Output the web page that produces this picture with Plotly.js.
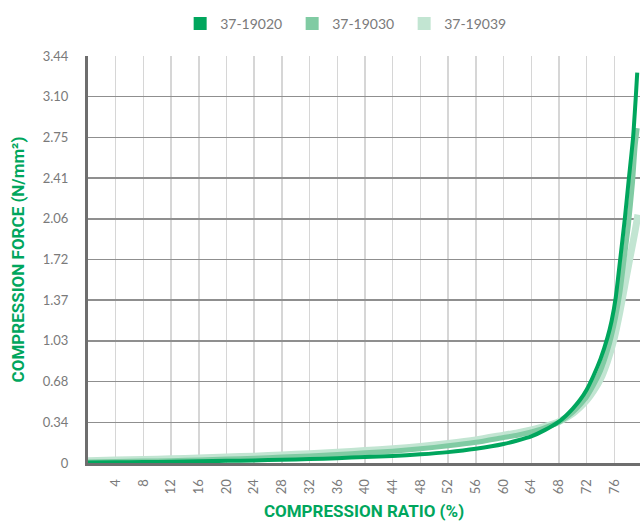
<!DOCTYPE html>
<html>
<head>
<meta charset="utf-8">
<script src="https://cdn.plot.ly/plotly-3.0.1.min.js"></script>
<style>
html,body{margin:0;padding:0;background:#fff;}
#chart{width:640px;height:531px;}
</style>
</head>
<body>
<div id="chart"></div>
<script>
// Series names
const seriesNames = ["37-19020", "37-19030", "37-19039"];

// 37-19020 (dark green)
const x19020 = [0,4,8,12,16,20,24,28,32,36,40,44,48,52,56,60,62,64,66,68,69,70,71,72,73,74,75,75.6,76.2,76.8,77.5,78.1,78.7,79.1,79.3];
const y19020 = [0.005,0.006,0.008,0.011,0.014,0.018,0.022,0.027,0.033,0.041,0.05,0.06,0.073,0.092,0.12,0.16,0.19,0.225,0.28,0.35,0.40,0.46,0.53,0.62,0.74,0.88,1.06,1.2,1.40,1.70,2.06,2.41,2.75,3.10,3.30];

// 37-19030 (medium green)
const x19030 = [0,4,8,12,16,20,24,28,32,36,40,44,48,52,56,60,62,64,66,68,70,71,72,73,74,75,75.6,76.2,76.8,77.4,78.0,78.6,79.0,79.3];
const y19030 = [0.008,0.012,0.016,0.02,0.026,0.033,0.04,0.05,0.06,0.072,0.086,0.1,0.12,0.145,0.175,0.215,0.235,0.262,0.3,0.345,0.43,0.49,0.56,0.66,0.78,0.95,1.08,1.24,1.44,1.72,2.0,2.36,2.68,2.83];

// 37-19039 (light green)
const x19039 = [0,4,8,12,16,20,24,28,32,36,40,44,48,52,56,60,62,64,66,68,70,71,72,73,74,75,76,76.8,77.5,78.2,78.8,79.2,79.4];
const y19039 = [0.02,0.025,0.03,0.035,0.042,0.05,0.058,0.068,0.078,0.09,0.105,0.12,0.14,0.165,0.195,0.235,0.255,0.28,0.31,0.35,0.42,0.47,0.53,0.61,0.71,0.86,1.06,1.28,1.50,1.72,1.9,2.03,2.10];

// Axis ticks
const xTickVals = [4,8,12,16,20,24,28,32,36,40,44,48,52,56,60,64,68,72,76];
const yTickVals = [0,0.344,0.688,1.032,1.376,1.72,2.064,2.408,2.752,3.096,3.44];
const yTickText = ["0","0.34","0.68","1.03","1.37","1.72","2.06","2.41","2.75","3.10","3.44"];

const colors = ["#00a65d", "#80cba3", "#c2e5d2"];
const widths = [4, 5, 7];
const xs = [x19020, x19030, x19039];
const ys = [y19020, y19030, y19039];

const traces = [];
// draw light first, dark on top
for (let i = 2; i >= 0; i--) {
  traces.push({
    x: xs[i], y: ys[i], type: "scatter", mode: "lines",
    line: {color: colors[i], width: widths[i], shape: "spline", smoothing: 0.6},
    showlegend: false, hoverinfo: "skip"
  });
}
// legend entries with square swatches
for (let i = 0; i < 3; i++) {
  traces.push({
    x: [null], y: [null], type: "scatter", mode: "markers",
    name: seriesNames[i],
    marker: {symbol: "square", size: 13, color: colors[i]},
    showlegend: true
  });
}

const layout = {
  width: 640, height: 531,
  margin: {l: 88, r: 0, t: 56, b: 68},
  paper_bgcolor: "#fff", plot_bgcolor: "#fff",
  font: {family: "Lato, 'Open Sans', sans-serif", color: "#7a7a7a", size: 13},
  showlegend: true,
  legend: {
    orientation: "h", x: 0.544, xanchor: "center", xref: "container",
    y: 0.985, yanchor: "top", yref: "container",
    font: {size: 14, color: "#7a7a7a"},
    itemwidth: 30, traceorder: "normal",
    entrywidth: 67, entrywidthmode: "pixels"
  },
  xaxis: {
    range: [0, 79.7], tickvals: xTickVals, ticktext: xTickVals.map(String),
    tickangle: -90, showgrid: true, gridcolor: "#d6d6d6", gridwidth: 1.5,
    zeroline: false, showline: true, linecolor: "#6e6e6e", linewidth: 3,
    ticks: "", ticklabelstandoff: 8,
    tickfont: {size: 13, color: "#7a7a7a"},
    title: {text: "COMPRESSION RATIO (%)", standoff: 12,
      font: {family: "Roboto, sans-serif", size: 17, color: "#00a65d", weight: "bold"}}
  },
  yaxis: {
    range: [0, 3.44], tickvals: yTickVals, ticktext: yTickText,
    showgrid: true, gridcolor: "#8f8f8f", gridwidth: 1.5,
    zeroline: false, showline: true, linecolor: "#6e6e6e", linewidth: 3,
    ticks: "", ticklabelstandoff: 14,
    tickfont: {size: 13, color: "#7a7a7a"},
    title: {text: "COMPRESSION FORCE (N/mm²)", standoff: 14,
      font: {family: "Roboto, sans-serif", size: 17, color: "#00a65d", weight: "bold"}}
  }
};

Plotly.newPlot("chart", traces, layout, {displayModeBar: false, staticPlot: true});
</script>
</body>
</html>
